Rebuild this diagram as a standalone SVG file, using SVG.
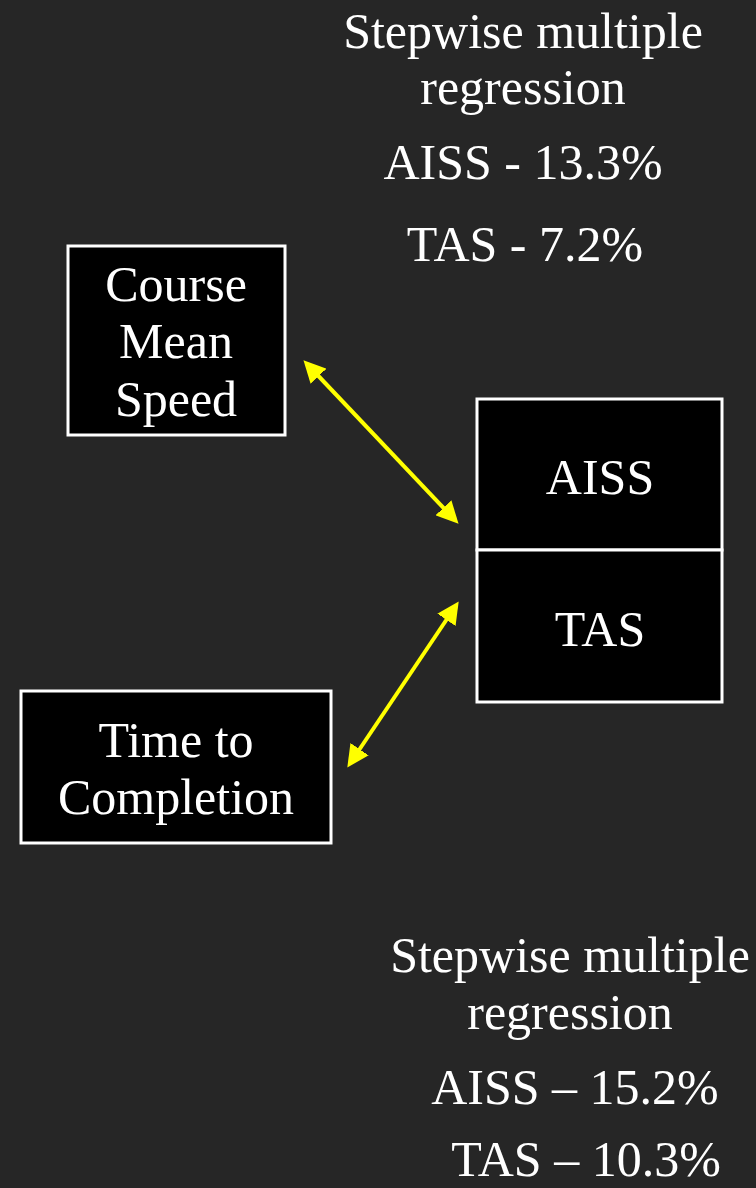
<svg xmlns="http://www.w3.org/2000/svg" width="756" height="1188" viewBox="0 0 756 1188">
<defs>
<style>
.t{font-family:"Liberation Serif","Times New Roman",serif;fill:#ffffff;text-anchor:middle;font-size:50px}
.box{fill:#000000;stroke:#ffffff;stroke-width:3}
.conn{stroke:#ffff00;stroke-width:4;fill:none;marker-start:url(#ah);marker-end:url(#ah)}
</style>
<marker id="ah" viewBox="0 0 10 10" refX="7" refY="5" markerWidth="5.5" markerHeight="5.5" orient="auto-start-reverse" markerUnits="strokeWidth">
<path d="M0,0 L10,5 L0,10 z" fill="#ffff00"/>
</marker>
</defs>
<rect width="756" height="1188" fill="#262626"/>
<g id="top-label">
<text class="t" x="523" y="48">Stepwise multiple</text>
<text class="t" x="523" y="104">regression</text>
<text class="t" x="523" y="179">AISS - 13.3%</text>
<text class="t" x="525" y="261">TAS - 7.2%</text>
</g>
<g id="course-mean-speed">
<rect class="box" x="68" y="246" width="217" height="189"/>
<text class="t" x="176" y="301">Course</text>
<text class="t" x="176" y="358">Mean</text>
<text class="t" x="176" y="416">Speed</text>
</g>
<g id="aiss">
<rect class="box" x="477" y="399" width="245" height="151"/>
<text class="t" x="600" y="494">AISS</text>
</g>
<g id="tas">
<rect class="box" x="477" y="550" width="245" height="152"/>
<text class="t" x="600" y="646">TAS</text>
</g>
<g id="time-to-completion">
<rect class="box" x="21" y="691" width="310" height="152"/>
<text class="t" x="176" y="757">Time to</text>
<text class="t" x="176" y="814">Completion</text>
</g>
<g id="bottom-label">
<text class="t" x="570" y="972">Stepwise multiple</text>
<text class="t" x="570" y="1029">regression</text>
<text class="t" x="575" y="1104">AISS – 15.2%</text>
<text class="t" x="586" y="1176">TAS – 10.3%</text>
</g>
<g id="connectors">
<line class="conn" x1="308" y1="365" x2="454" y2="519"/>
<line class="conn" x1="455" y1="607" x2="351" y2="762"/>
</g>
</svg>
